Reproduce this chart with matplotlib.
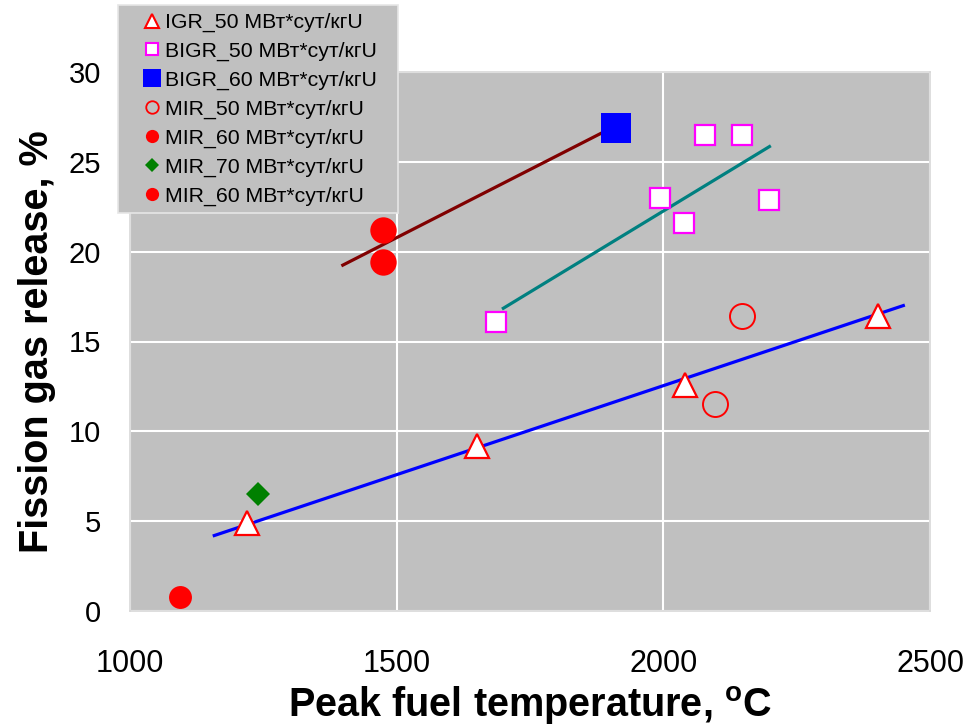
import matplotlib
matplotlib.use("Agg")
import matplotlib.pyplot as plt
from matplotlib.lines import Line2D
from matplotlib.patches import Rectangle

plt.rcParams['font.family'] = ['Liberation Sans', 'DejaVu Sans']
plt.rcParams['mathtext.fontset'] = 'custom'
plt.rcParams['mathtext.rm'] = 'Liberation Sans:bold'
plt.rcParams['mathtext.bf'] = 'Liberation Sans:bold'

# data
igr50_t = [1220, 1650, 2040, 2402]
igr50_f = [4.9, 9.2, 12.6, 16.4]

bigr50_t = [1686, 1994, 2038, 2079, 2147, 2198]
bigr50_f = [16.1, 23.0, 21.6, 26.5, 26.5, 22.9]

bigr60_t = [1912]
bigr60_f = [26.9]

mir50_t = [2147, 2097]
mir50_f = [16.4, 11.5]

mir60a_t = [1094]
mir60a_f = [0.8]

mir70_t = [1240]
mir70_f = [6.5]

mir60b_t = [1475, 1475]
mir60b_f = [21.2, 19.4]

# trend lines (end points)
trend_blue_t = [1158, 2450]
trend_blue_f = [4.2, 17.0]
trend_teal_t = [1700, 2199]
trend_teal_f = [16.85, 25.85]
trend_red_t = [1399, 1884]
trend_red_f = [19.25, 26.6]

unit = " МВт*сут/кгU"
labels = ["IGR_50" + unit, "BIGR_50" + unit, "BIGR_60" + unit,
          "MIR_50" + unit, "MIR_60" + unit, "MIR_70" + unit, "MIR_60" + unit]

W, H = 965, 727
fig = plt.figure(figsize=(W / 100, H / 100), dpi=100)
ax = fig.add_axes([130 / W, 1 - 611 / H, 800 / W, 539 / H])
ax.set_facecolor('#C0C0C0')

ax.plot(trend_blue_t, trend_blue_f, color='#0000FF', lw=2.3, zorder=2)
ax.plot(trend_teal_t, trend_teal_f, color='#008080', lw=2.3, zorder=2)
ax.plot(trend_red_t, trend_red_f, color='#800000', lw=2.3, zorder=2)

ax.plot(igr50_t, igr50_f, ls='none', marker='^', ms=17, mfc='white', mec='#FF0000', mew=1.6, zorder=3)
ax.plot(bigr50_t, bigr50_f, ls='none', marker='s', ms=15, mfc='white', mec='#FF00FF', mew=1.6, zorder=3)
ax.plot(bigr60_t, bigr60_f, ls='none', marker='s', ms=21, mfc='#0000FF', mec='#0000FF', mew=0, zorder=3)
ax.plot(mir50_t, mir50_f, ls='none', marker='o', ms=18, mfc='none', mec='#FF0000', mew=1.4, zorder=3)
ax.plot(mir60a_t, mir60a_f, ls='none', marker='o', ms=16.5, mfc='#FF0000', mec='#FF0000', mew=0, zorder=3)
ax.plot(mir70_t, mir70_f, ls='none', marker='D', ms=12.5, mfc='#008000', mec='#008000', mew=0, zorder=3)
ax.plot(mir60b_t, mir60b_f, ls='none', marker='o', ms=19, mfc='#FF0000', mec='#FF0000', mew=0, zorder=3)

ax.set_xlim(1000, 2500)
ax.set_ylim(0, 30)
ax.set_xticks([1000, 1500, 2000, 2500])
ax.set_yticks([0, 5, 10, 15, 20, 25, 30])
ax.grid(True, color='white', lw=1.5)
ax.set_axisbelow(True)
for s in ax.spines.values():
    s.set_color('#D8D8D8')
    s.set_linewidth(1.2)
ax.tick_params(axis='x', length=0, pad=27, labelsize=22)
ax.tick_params(axis='y', length=0, pad=21, labelsize=21)

ax.set_xlabel(r"Peak fuel temperature, $^{\mathbf{o}}$C", fontsize=28.5, fontweight='bold', labelpad=4)
ax.set_ylabel("Fission gas release, %", fontsize=28.5, fontweight='bold', labelpad=9)

# legend box (Excel style, sticks out left of the plot area)
fig.add_artist(Rectangle((118 / W, 1 - 213 / H), 280 / W, 208 / H, transform=fig.transFigure,
                         facecolor='#C0C0C0', edgecolor='#E6E6E6', lw=1.2, zorder=4))

handles = [
    Line2D([], [], ls='none', marker='^', ms=9.5, mfc='white', mec='#FF0000', mew=1.5),
    Line2D([], [], ls='none', marker='s', ms=8.5, mfc='white', mec='#FF00FF', mew=1.5),
    Line2D([], [], ls='none', marker='s', ms=13, mfc='#0000FF', mec='#0000FF', mew=0),
    Line2D([], [], ls='none', marker='o', ms=9, mfc='none', mec='#FF0000', mew=1.3),
    Line2D([], [], ls='none', marker='o', ms=9.5, mfc='#FF0000', mec='#FF0000', mew=0),
    Line2D([], [], ls='none', marker='D', ms=7.2, mfc='#008000', mec='#008000', mew=0),
    Line2D([], [], ls='none', marker='o', ms=9.5, mfc='#FF0000', mec='#FF0000', mew=0),
]
leg = fig.legend(handles, labels, loc='upper left', bbox_to_anchor=(146 / W, 1 - 13 / H),
                 borderaxespad=0, fontsize=15.3, frameon=False,
                 handlelength=0.6, handletextpad=0.3, labelspacing=0.455, borderpad=0)
leg.set_zorder(5)

fig.savefig("out.png", dpi=100)
